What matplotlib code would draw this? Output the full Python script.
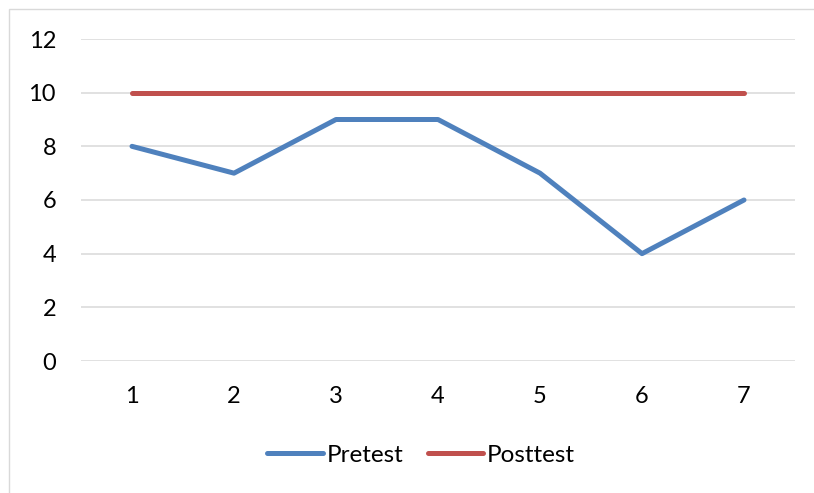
import matplotlib
matplotlib.use('Agg')
import matplotlib.pyplot as plt
from matplotlib.patches import Rectangle

# Datos
categorias = [1, 2, 3, 4, 5, 6, 7]
pretest = [8, 7, 9, 9, 7, 4, 6]
posttest = [10, 10, 10, 10, 10, 10, 10]
yticks = [0, 2, 4, 6, 8, 10, 12]

plt.rcParams['font.family'] = ['Lato', 'DejaVu Sans']

W, H = 814, 493
fig = plt.figure(figsize=(W / 100, H / 100), dpi=100)
ax = fig.add_axes([81 / W, 1 - 361 / H, (795 - 81) / W, (361 - 39) / H])

ax.plot(categorias, pretest, color='#4F81BD', lw=3.6, solid_capstyle='round',
        solid_joinstyle='round', label='Pretest', zorder=3)
ax.plot(categorias, posttest, color='#C0504D', lw=3.6, solid_capstyle='round',
        label='Posttest', zorder=3)

ax.set_xlim(0.5, 7.5)
ax.set_ylim(0, 12)
ax.set_xticks(categorias)
ax.set_yticks(yticks)
ax.grid(axis='y', color='#D9D9D9', lw=1.1)
ax.set_axisbelow(True)
for s in ax.spines.values():
    s.set_visible(False)
ax.tick_params(length=0, labelsize=17, colors='black')
ax.tick_params(axis='y', pad=18)
ax.tick_params(axis='x', pad=18)

fig.legend(loc='center', bbox_to_anchor=(421 / W, 1 - 455 / H), ncol=2,
           frameon=False, fontsize=17.5, handlelength=2.3, handletextpad=0.15,
           columnspacing=1.0)

# borde del gráfico
fig.patches.append(Rectangle((9 / W, -0.1), 1.1, 1 - 9 / H + 0.1,
                             transform=fig.transFigure, fill=False,
                             edgecolor='#D9D9D9', lw=1))

fig.savefig('out.png', dpi=100)
